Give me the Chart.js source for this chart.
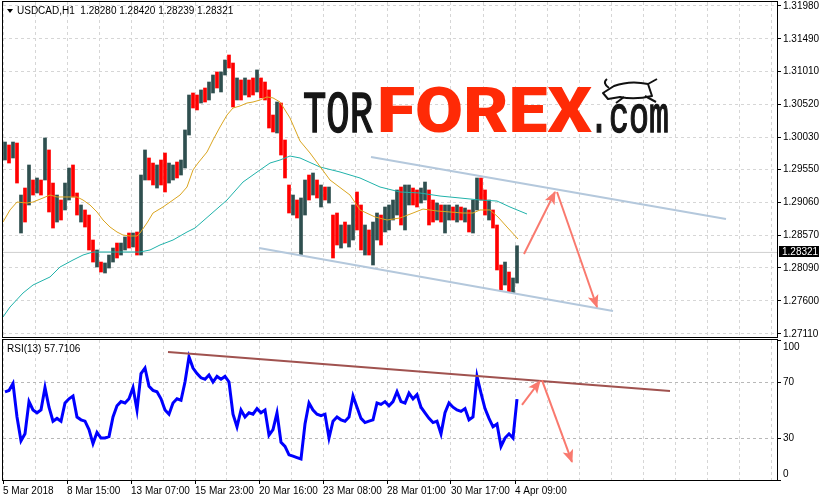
<!DOCTYPE html>
<html><head><meta charset="utf-8">
<script src="https://cdn.jsdelivr.net/npm/chart.js@4.4.1/dist/chart.umd.min.js"></script>
<style>
html,body{margin:0;padding:0;background:#fff;}
#wrap{position:relative;width:820px;height:502px;overflow:hidden;background:#fff;}
#c1{position:absolute;left:0;top:0;}
#c2{position:absolute;left:0;top:336px;}
</style></head><body>
<div id="wrap">
<canvas id="c1" width="820" height="340"></canvas>
<canvas id="c2" width="820" height="166"></canvas>
</div>
<script>
// ---------------- DATA ----------------
const symbolTitle = 'USDCAD,H1';
const lastOHLC = [1.28280, 1.28420, 1.28239, 1.28321];
const priceTicks = [1.27110,1.27600,1.28090,1.28570,1.29060,1.29550,1.30030,1.30520,1.31010,1.31490,1.31980];
const priceMin = 1.27065, priceMax = 1.32039;
const rsiTitle = 'RSI(13) 57.7106';
const rsiTicks = [0, 30, 70, 100];
const timeLabels = ['5 Mar 2018','8 Mar 15:00','13 Mar 07:00','15 Mar 23:00','20 Mar 16:00','23 Mar 08:00','28 Mar 01:00','30 Mar 17:00','4 Apr 09:00'];
const timeLabelBars = [0,64,128,192,256,320,384,448,512];
const visibleBars = 774;
const timeGridStep = 32;

// candles: one entry per 4 hourly bars, first at bar 2
const candleStart = 2, candleStep = 4;
const candleHigh = [
1.29960,1.29916,1.29960,1.29945,1.29173,1.29277,1.29619,1.29396,1.29426,1.29396,
1.30020,1.29842,1.29351,1.29173,1.29099,1.29351,1.29574,1.29619,1.29203,1.29025,
1.28951,1.28876,1.28505,1.28357,1.28178,1.28164,1.28282,1.28386,1.28460,1.28460,
1.28550,1.28609,1.28609,1.28624,1.29470,1.29842,1.29723,1.29648,1.29619,1.29693,
1.29797,1.29648,1.29619,1.29663,1.29693,1.30139,1.30658,1.30688,1.30658,1.30733,
1.30762,1.30851,1.30955,1.31000,1.31000,1.31178,1.31252,1.31133,1.30911,1.30881,
1.30911,1.30881,1.30911,1.31030,1.30911,1.30851,1.30733,1.30361,1.30554,1.30539,
1.29990,1.29322,1.29173,1.29099,1.29129,1.29396,1.29470,1.29500,1.29396,1.29322,
1.29292,1.29292,1.28876,1.28906,1.28728,1.28772,1.28728,1.29025,1.29218,1.29025,
1.28728,1.28654,1.28772,1.28906,1.28876,1.28995,1.29025,1.29099,1.29248,1.29292,
1.29322,1.29322,1.29277,1.29248,1.29277,1.29366,1.29248,1.29099,1.29054,1.29025,
1.29025,1.29025,1.28995,1.29025,1.28995,1.28980,1.28951,1.29099,1.29426,1.29426,
1.29248,1.29099,1.28951,1.28728,1.28134,1.28178,1.28030,1.27941,1.28420];
const candleLow = [
1.29693,1.29648,1.29723,1.29351,1.28609,1.28772,1.29025,1.29173,1.29203,1.29173,
1.29396,1.28921,1.28683,1.28772,1.28802,1.28951,1.29099,1.29144,1.28876,1.28772,
1.28698,1.28357,1.28178,1.28104,1.28030,1.28015,1.28089,1.28178,1.28238,1.28282,
1.28357,1.28386,1.28401,1.28282,1.28282,1.29396,1.29396,1.29322,1.29277,1.29322,
1.29218,1.29351,1.29396,1.29426,1.29470,1.29574,1.30064,1.30465,1.30436,1.30539,
1.30554,1.30584,1.30688,1.30762,1.30703,1.30955,1.31059,1.30480,1.30584,1.30584,
1.30658,1.30629,1.30658,1.30703,1.30615,1.30584,1.30168,1.30109,1.30094,1.29767,
1.29426,1.28906,1.28876,1.28832,1.28282,1.28876,1.29099,1.29173,1.29129,1.28995,
1.29099,1.29054,1.28238,1.28431,1.28386,1.28460,1.28401,1.28505,1.28654,1.28357,
1.28282,1.28282,1.28134,1.28505,1.28431,1.28624,1.28654,1.28802,1.28876,1.28728,
1.28654,1.29025,1.29025,1.28995,1.29054,1.29099,1.28728,1.28772,1.28802,1.28772,
1.28609,1.28802,1.28802,1.28772,1.28802,1.28772,1.28624,1.28609,1.28951,1.29099,
1.28876,1.28802,1.28683,1.28060,1.27763,1.27837,1.27733,1.27718,1.27866];
const candleUp = [
1,0,1,0,1,0,1,0,1,0,
1,0,0,1,0,1,1,0,0,1,
0,0,0,1,0,1,1,1,0,1,
1,0,1,0,1,1,0,0,1,0,
0,1,1,0,1,1,1,0,0,1,
0,1,1,0,1,1,0,0,1,0,
1,0,0,1,0,0,0,0,1,0,
0,0,1,0,1,1,0,1,0,1,
0,1,0,0,1,0,1,1,0,0,
1,0,1,1,0,1,1,1,1,0,
1,1,0,0,1,1,0,0,1,0,
1,1,0,1,0,1,0,1,1,0,
0,1,0,0,0,1,0,1,1];

// moving averages (bar index, price)
const maFastBars = [0,7,14,24,30,40,47,54,64,74,80,87,94,100,107,114,120,127,134,137,144,150,160,170,177,184,190,195,204,210,217,224,230,237,244,250,257,264,270,277,287,297,307,327,347,357,372,384,397,410,420,434,447,460,470,477,487,495,504,515];
const maFast = [1.28772,1.28951,1.29069,1.29054,1.29069,1.29129,1.29173,1.29144,1.29144,1.29144,1.29099,1.29025,1.28921,1.28802,1.28698,1.28624,1.28579,1.28565,1.28565,1.28609,1.28758,1.28906,1.28995,1.29099,1.29173,1.29292,1.29545,1.29648,1.29812,1.29990,1.30183,1.30361,1.30465,1.30495,1.30539,1.30554,1.30584,1.30629,1.30615,1.30554,1.30317,1.29975,1.29797,1.29396,1.29173,1.28951,1.28847,1.28802,1.28832,1.28906,1.28965,1.28936,1.28921,1.28906,1.28906,1.28951,1.28951,1.28847,1.28698,1.28520];
const maSlowBars = [0,7,20,30,47,57,70,80,90,97,137,147,157,170,184,192,208,224,240,257,267,277,287,297,317,337,357,377,397,417,437,457,477,494,507,524];
const maSlow = [1.27362,1.27510,1.27718,1.27837,1.27956,1.28104,1.28208,1.28282,1.28327,1.28327,1.28327,1.28357,1.28431,1.28505,1.28624,1.28683,1.28891,1.29099,1.29366,1.29545,1.29648,1.29693,1.29752,1.29723,1.29589,1.29515,1.29426,1.29292,1.29218,1.29203,1.29158,1.29129,1.29099,1.29084,1.28995,1.28891];

// RSI(13), one value per candle entry
const rsiValues = [
63,64,69,45,28,33,56,50,48,50,
66,52,42,44,42,55,58,60,45,43,
42,36,26,34,30,30,31,45,53,56,
55,58,66,50,76,80,67,64,63,58,
50,47,55,58,57,70,88,80,76,73,
72,75,70,74,72,74,70,47,38,50,
45,48,47,51,48,50,32,36,48,27,
24,18,17,16,15,40,55,50,47,46,
47,30,42,45,43,42,45,60,52,44,
41,42,43,55,54,56,53,56,63,56,
55,62,58,61,52,48,44,41,42,33,
48,55,52,50,49,51,43,45,74,62,
51,44,38,40,24,30,33,30,57.7106];

// drawn analysis lines (bar index, value)
const channelUpperBars = [368, 723], channelUpperPrices = [1.29738, 1.28817];
const channelLowerBars = [256, 610], channelLowerPrices = [1.28386, 1.27451];
const arrowUpBars = [521, 552], arrowUpPrices = [1.28297, 1.29218];
const arrowDownBars = [554, 594], arrowDownPrices = [1.29218, 1.27510];
const rsiTrendBars = [165, 667], rsiTrendValues = [91.4, 63.6];
const rsiArrowUpBars = [519, 537], rsiArrowUpValues = [53.6, 70.7];
const rsiArrowDownBars = [539, 569], rsiArrowDownValues = [71.4, 12.9];

// ---------------- STYLE ----------------
const FONT = '"Liberation Sans",Arial,sans-serif';
const FSIZE = 10;
const UP = '#2f4f4f', DOWN = '#ff0000';
const GRID = '#d6d6d6';
const ARROW = '#f9796e';

const pts = (xs, ys) => xs.map((x, i) => ({x, y: ys[i]}));
const gridBars = [];
for (let b = 0; b <= visibleBars; b += timeGridStep) gridBars.push(b);
const currentPrice = lastOHLC[3];

function lineDs(data, color, width, order, extra) {
  return Object.assign({type: 'line', data, borderColor: color, backgroundColor: color, borderWidth: width,
    pointRadius: 0, tension: 0, fill: false, order}, extra || {});
}

function drawArrowHeads(chart) {
  const ctx = chart.ctx;
  chart.data.datasets.forEach((ds, i) => {
    if (!ds.arrowHead) return;
    const p = chart.getDatasetMeta(i).data;
    const a = p[p.length - 2], b = p[p.length - 1];
    const ang = Math.atan2(b.y - a.y, b.x - a.x);
    ctx.save();
    ctx.translate(b.x, b.y); ctx.rotate(ang);
    ctx.beginPath(); ctx.moveTo(1, 0); ctx.lineTo(-12, -5.5); ctx.lineTo(-9, 0); ctx.lineTo(-12, 5.5); ctx.closePath();
    ctx.fillStyle = ds.headColor || ds.borderColor; ctx.fill();
    ctx.restore();
  });
}
function drawFrame(chart) {
  const {ctx, chartArea: a} = chart;
  ctx.save(); ctx.strokeStyle = '#000'; ctx.lineWidth = 1;
  ctx.strokeRect(Math.round(a.left) - 0.5, Math.round(a.top) - 0.5, Math.round(a.right - a.left) + 1, Math.round(a.bottom - a.top) + 1);
  ctx.restore();
}
function fitText(ctx, text, font, x, base, width, color, strokeW) {
  ctx.save();
  ctx.font = font; ctx.textAlign = 'left'; ctx.textBaseline = 'alphabetic';
  const w = ctx.measureText(text).width;
  ctx.translate(x, base); ctx.scale(width / w, 1);
  ctx.fillStyle = color; ctx.fillText(text, 0, 0);
  if (strokeW) { ctx.strokeStyle = color; ctx.lineWidth = strokeW; ctx.strokeText(text, 0, 0); }
  ctx.restore();
}
function drawLogo(ctx) {
  fitText(ctx, 'TOR', '60px "Liberation Mono"', 303, 132, 70, '#161616', 1.6);
  fitText(ctx, 'FOREX', '900 63px Roboto, Inter, "Open Sans", sans-serif', 377, 132, 215, '#ff2a06');
  fitText(ctx, '.com', '52px "Liberation Mono"', 589, 132, 80, '#161616', 1.4);
  // bull icon
  ctx.save();
  ctx.strokeStyle = '#111'; ctx.fillStyle = '#fff'; ctx.lineWidth = 2; ctx.lineJoin = 'round';
  ctx.beginPath();
  ctx.moveTo(614, 86); ctx.quadraticCurveTo(630, 80, 648, 84); ctx.lineTo(652, 96);
  ctx.quadraticCurveTo(635, 100, 620, 97); ctx.lineTo(608, 99); ctx.lineTo(603, 93); ctx.closePath();
  ctx.fill(); ctx.stroke();
  ctx.beginPath();
  ctx.moveTo(609, 88); ctx.quadraticCurveTo(602, 83, 607, 79);
  ctx.moveTo(624, 97); ctx.lineTo(616, 103);
  ctx.moveTo(645, 96); ctx.lineTo(656, 102);
  ctx.moveTo(648, 84); ctx.lineTo(657, 79);
  ctx.stroke();
  ctx.restore();
}

// ---------------- MAIN CHART ----------------
const candleData = candleHigh.map((h, k) => ({x: candleStart + candleStep * k, y: [candleLow[k], h]}));
const candleColors = candleUp.map(u => u ? UP : DOWN);

const mainPlugin = {
  id: 'mainDecor',
  beforeDatasetsDraw(chart) { drawLogo(chart.ctx); },
  afterDatasetsDraw(chart) { drawArrowHeads(chart); },
  afterDraw(chart) {
    const {ctx, chartArea: a, scales: {y}} = chart;
    drawFrame(chart);
    // current price tag
    const py = Math.round(y.getPixelForValue(currentPrice));
    ctx.save();
    ctx.fillStyle = '#000'; ctx.fillRect(a.right + 2, py - 6, 40, 11);
    ctx.fillStyle = '#fff'; ctx.font = FSIZE + 'px ' + FONT; ctx.textBaseline = 'middle'; ctx.textAlign = 'left';
    ctx.fillText(currentPrice.toFixed(5), a.right + 5, py);
    // header
    ctx.fillStyle = '#000';
    ctx.beginPath(); ctx.moveTo(7, 9); ctx.lineTo(13, 9); ctx.lineTo(10, 13); ctx.closePath(); ctx.fill();
    ctx.fillText(symbolTitle + '  ' + lastOHLC.map(v => v.toFixed(5)).join(' '), 17, 11);
    ctx.restore();
  }
};

new Chart(document.getElementById('c1'), {
  type: 'line',
  data: { datasets: [
    {type: 'bar', data: candleData, backgroundColor: candleColors, borderWidth: 0, barThickness: 3, grouped: false, order: 5},
    lineDs([{x: 0, y: currentPrice}, {x: visibleBars, y: currentPrice}], '#cfcfcf', 1, 9),
    lineDs(pts(maFastBars, maFast), '#daa520', 1, 3),
    lineDs(pts(maSlowBars, maSlow), '#20b2aa', 1, 3),
    lineDs(pts(channelUpperBars, channelUpperPrices), '#b4c8dc', 2, 2),
    lineDs(pts(channelLowerBars, channelLowerPrices), '#b4c8dc', 2, 2),
    lineDs(pts(arrowUpBars, arrowUpPrices), ARROW, 2, 1, {arrowHead: true}),
    lineDs(pts(arrowDownBars, arrowDownPrices), ARROW, 2, 1, {arrowHead: true})
  ]},
  options: {
    responsive: false, maintainAspectRatio: false, animation: false, devicePixelRatio: 1, events: [],
    layout: {padding: {top: 2, left: 3, right: 0, bottom: 3}},
    plugins: {legend: {display: false}, tooltip: {enabled: false}},
    scales: {
      x: {type: 'linear', min: 0, max: visibleBars, offset: false,
        grid: {offset: false, color: GRID, drawTicks: false},
        border: {display: false, dash: [3, 3]},
        ticks: {display: false},
        afterBuildTicks: s => { s.ticks = gridBars.map(v => ({value: v})); },
        afterFit: s => { s.height = 0; s.paddingLeft = 0; s.paddingRight = 0; }
      },
      y: {type: 'linear', position: 'right', min: priceMin, max: priceMax,
        grid: {color: GRID, tickColor: '#000', tickLength: 4},
        border: {display: false, dash: [3, 3]},
        ticks: {color: '#000', padding: 2, font: {family: FONT, size: FSIZE}, callback: v => Number(v).toFixed(5)},
        afterBuildTicks: s => { s.ticks = priceTicks.map(v => ({value: v})); },
        afterFit: s => { s.width = 43; s.paddingTop = 0; s.paddingBottom = 0; }
      }
    }
  },
  plugins: [mainPlugin]
});

// ---------------- RSI CHART ----------------
const rsiPlugin = {
  id: 'rsiDecor',
  afterDatasetsDraw(chart) { drawArrowHeads(chart); },
  afterDraw(chart) {
    const {ctx, chartArea: a, scales: {y}} = chart;
    drawFrame(chart);
    ctx.save();
    ctx.fillStyle = '#000'; ctx.font = FSIZE + 'px ' + FONT; ctx.textBaseline = 'middle'; ctx.textAlign = 'left';
    rsiTicks.forEach(v => {
      let py = y.getPixelForValue(v);
      py = Math.min(Math.max(py, a.top + 7), a.bottom - 6);
      ctx.fillText(String(v), a.right + 6, py);
    });
    ctx.fillText(rsiTitle, 7, 13);
    ctx.restore();
  }
};

new Chart(document.getElementById('c2'), {
  type: 'line',
  data: { datasets: [
    lineDs(rsiValues.map((v, k) => ({x: candleStart + candleStep * k, y: v})), '#0000ff', 3, 2),
    lineDs(pts(rsiTrendBars, rsiTrendValues), '#a0524f', 2, 1),
    lineDs(pts(rsiArrowUpBars, rsiArrowUpValues), ARROW, 2, 0, {arrowHead: true}),
    lineDs(pts(rsiArrowDownBars, rsiArrowDownValues), ARROW, 2, 0, {arrowHead: true})
  ]},
  options: {
    responsive: false, maintainAspectRatio: false, animation: false, devicePixelRatio: 1, events: [],
    layout: {padding: {top: 4, left: 3, right: 0, bottom: 0}},
    plugins: {legend: {display: false}, tooltip: {enabled: false}},
    scales: {
      x: {type: 'linear', min: 0, max: visibleBars, offset: false,
        grid: {offset: false, color: GRID, tickLength: 4,
          tickColor: c => timeLabelBars.includes(c.tick.value) ? '#000' : 'rgba(0,0,0,0)'},
        border: {display: false, dash: [3, 3]},
        ticks: {autoSkip: false, maxRotation: 0, minRotation: 0, align: 'start', padding: 1, color: '#000',
          font: {family: FONT, size: FSIZE},
          callback: v => { const i = timeLabelBars.indexOf(v); return i >= 0 ? timeLabels[i] : ''; }},
        afterBuildTicks: s => { s.ticks = gridBars.map(v => ({value: v})); },
        afterFit: s => { s.height = 22; s.paddingLeft = 0; s.paddingRight = 0; }
      },
      y: {type: 'linear', position: 'right', min: 0, max: 100,
        grid: {color: c => (c.tick.value === 30 || c.tick.value === 70) ? '#b8b8b8' : 'rgba(0,0,0,0)', tickColor: '#000', tickLength: 4},
        border: {display: false, dash: [3, 3]},
        ticks: {display: false},
        afterBuildTicks: s => { s.ticks = rsiTicks.map(v => ({value: v})); },
        afterFit: s => { s.width = 43; s.paddingTop = 0; s.paddingBottom = 0; }
      }
    }
  },
  plugins: [rsiPlugin]
});
</script>
</body></html>
